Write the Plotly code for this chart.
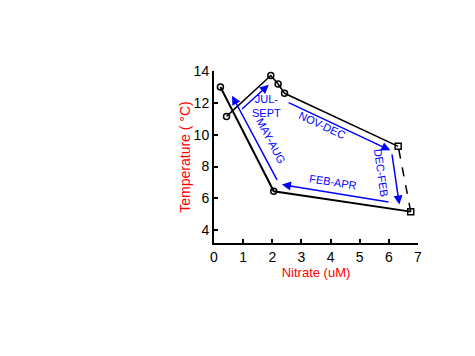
import plotly.graph_objects as go

# Data path (nitrate uM, temperature C)
nitrate = [0.22, 2.05, 6.75, 6.32, 2.42, 2.2, 1.95, 0.43]
temperature = [13.0, 6.45, 5.17, 9.27, 12.6, 13.18, 13.72, 11.15]
symbols = ["circle-open", "circle-open", "square-open", "square-open",
           "circle-open", "circle-open", "circle-open", "circle-open"]

# Season arrows: label, tail (x,y), head (x,y), label pos (x,y), angle
season_labels = ["JUL-<br>SEPT", "MAY-AUG", "NOV-DEC", "DEC-FEB", "FEB-APR"]
tail_x = [0.91, 2.19, 2.51, 6.1, 6.04]
tail_y = [11.53, 7.07, 12.06, 8.86, 5.76]
head_x = [1.88, 0.62, 6.05, 6.36, 2.33]
head_y = [13.14, 12.45, 9.02, 5.61, 6.87]
label_x = [1.8, 1.96, 3.7, 5.74, 4.1]
label_y = [11.78, 9.6, 10.6, 7.6, 7.0]
label_angle = [0, 62, 25, 82, 9]

fig = go.Figure()

# solid segments
fig.add_trace(go.Scatter(x=nitrate[:3], y=temperature[:3], mode="lines",
                         line=dict(color="black", width=2), hoverinfo="skip",
                         showlegend=False))
fig.add_trace(go.Scatter(x=nitrate[2:4], y=temperature[2:4], mode="lines",
                         line=dict(color="black", width=1.5, dash="dash"),
                         hoverinfo="skip", showlegend=False))
fig.add_trace(go.Scatter(x=nitrate[3:], y=temperature[3:], mode="lines",
                         line=dict(color="black", width=1.5), hoverinfo="skip",
                         showlegend=False))
fig.add_trace(go.Scatter(x=nitrate, y=temperature, mode="markers",
                         marker=dict(symbol=symbols, size=6, color="black",
                                     line=dict(width=1.5, color="black")),
                         showlegend=False, cliponaxis=False))

for i in range(len(season_labels)):
    fig.add_annotation(x=head_x[i], y=head_y[i], ax=tail_x[i], ay=tail_y[i],
                       xref="x", yref="y", axref="x", ayref="y",
                       showarrow=True, arrowhead=2, arrowsize=1.2,
                       arrowwidth=1.5, arrowcolor="#0000ff", text="")
    fig.add_annotation(x=label_x[i], y=label_y[i], xref="x", yref="y",
                       text=season_labels[i], showarrow=False,
                       textangle=label_angle[i],
                       font=dict(family="Liberation Sans, Arial", size=11,
                                 color="#0000ff"))

fig.update_layout(
    width=475, height=356,
    margin=dict(l=205.5, r=65, t=63, b=121, autoexpand=False),
    plot_bgcolor="white", paper_bgcolor="white",
    font=dict(family="Liberation Sans, Arial", size=14, color="black"),
)
fig.update_xaxes(range=[0, 7], tickmode="array", tickvals=list(range(0, 8)),
                 showgrid=False, zeroline=False, showline=True,
                 linecolor="black", linewidth=2, ticks="inside", ticklen=4,
                 tickwidth=2, tickcolor="black", tickfont=dict(size=14),
                 title=dict(text="Nitrate (uM)", font=dict(color="red", size=13),
                            standoff=2))
fig.update_yaxes(range=[3.2, 14], tickmode="array", tickvals=[4, 6, 8, 10, 12, 14],
                 showgrid=False, zeroline=False, showline=True,
                 linecolor="black", linewidth=2, ticks="inside", ticklen=4,
                 tickwidth=2, tickcolor="black", tickfont=dict(size=14),
                 title=dict(text="Temperature ( °C)", font=dict(color="red", size=14),
                            standoff=0))

fig.write_html("out.html")
